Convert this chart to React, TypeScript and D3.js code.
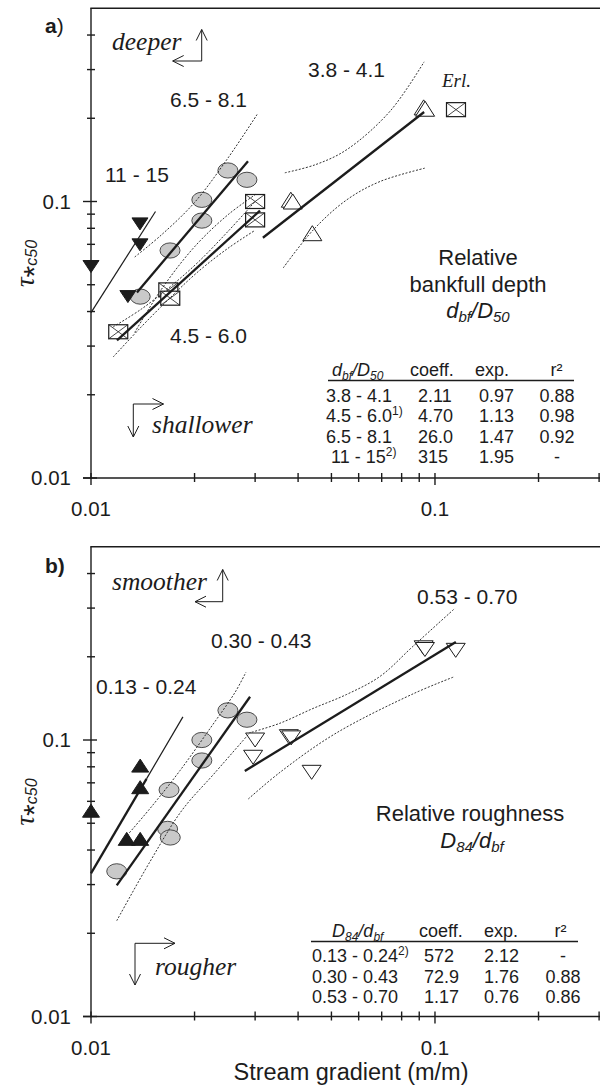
import React from 'react';
import * as d3 from 'd3';

type Pt = [number, number];

const SANS = "'Liberation Sans', Arial, Helvetica, sans-serif";
const SERIF = "'Liberation Serif', 'Times New Roman', serif";
const INK = '#1c1c1c';

// ---------- shared axes ----------
const xDomain: [number, number] = [0.01, 0.3];
const yDomain: [number, number] = [0.01, 0.5];
const xMajorTicks = [0.01, 0.1];
const xMinorTicks = [0.02, 0.03, 0.04, 0.05, 0.06, 0.07, 0.08, 0.09, 0.2, 0.3];
const yMajorTicks = [0.01, 0.1];
const yMinorTicks = [0.02, 0.03, 0.04, 0.05, 0.06, 0.07, 0.08, 0.09, 0.2, 0.3, 0.4];
const xTickLabels = ['0.01', '0.1'];
const yTickLabels = ['0.01', '0.1'];
const xTitle = 'Stream gradient (m/m)';

// ---------- panel a : relative bankfull depth ----------
const aFilledDown: Pt[] = [[0.01, 0.0582], [0.0128, 0.0453], [0.01388, 0.0697], [0.01388, 0.083]];
const aGrey: Pt[] = [[0.025, 0.1295], [0.0284, 0.1198], [0.021, 0.1014], [0.021, 0.0853], [0.01697, 0.0665], [0.0139, 0.0453]];
const aSquares: Pt[] = [[0.03, 0.1], [0.03, 0.0858], [0.01678, 0.0479], [0.017, 0.0447], [0.012, 0.0338], [0.1151, 0.2149]];
const aOpenUp: Pt[] = [[0.0927, 0.219], [0.0936, 0.2165], [0.0381, 0.1015], [0.0386, 0.1], [0.044, 0.0768]];

const aFitCoeff = [2.11, 4.7, 26.0, 315];
const aFitExp = [0.97, 1.13, 1.47, 1.95];
const aFitFrom = [0.0316, 0.0119, 0.0136, 0.01];
const aFitTo = [0.093, 0.031, 0.0286, 0.0154];

const aBand38Upper: Pt[] = [[0.0366, 0.127], [0.045, 0.136], [0.0554, 0.154], [0.074, 0.212], [0.093, 0.32]];
const aBand38Lower: Pt[] = [[0.0362, 0.0575], [0.0443, 0.079], [0.0554, 0.1014], [0.0692, 0.1181], [0.0934, 0.132]];
const aBand45Upper: Pt[] = [[0.0116, 0.0352], [0.014, 0.0408], [0.017, 0.0492], [0.0205, 0.0604], [0.025, 0.0779], [0.03, 0.1]];
const aBand45Lower: Pt[] = [[0.0116, 0.0274], [0.014, 0.0352], [0.017, 0.0449], [0.0205, 0.0558], [0.025, 0.0677], [0.03, 0.0787]];
const aBand65Upper: Pt[] = [[0.0134, 0.063], [0.016, 0.0756], [0.02, 0.0992], [0.025, 0.1435], [0.0304, 0.2064]];
const aBand65Lower: Pt[] = [[0.0134, 0.0336], [0.016, 0.048], [0.02, 0.0686], [0.025, 0.0895], [0.0304, 0.107]];

const aClassLabels = ['3.8 - 4.1', '4.5 - 6.0', '6.5 - 8.1', '11 - 15'];
const aTableClasses = ['3.8 - 4.1', '4.5 - 6.0', '6.5 - 8.1', ' 11 - 15'];
const aTableNotes = ['', '1)', '', '2)'];
const aTableCoeff = ['2.11', '4.70', '26.0', '315'];
const aTableExp = ['0.97', '1.13', '1.47', '1.95'];
const aTableR2 = ['0.88', '0.98', '0.92', '-'];

// ---------- panel b : relative roughness ----------
const bFilledUp: Pt[] = [[0.0139, 0.0808], [0.0139, 0.0675], [0.01, 0.0555], [0.0127, 0.0439], [0.0139, 0.0439]];
const bGrey: Pt[] = [[0.025, 0.128], [0.0284, 0.1184], [0.021, 0.1], [0.021, 0.0843], [0.01686, 0.066], [0.0167, 0.0477], [0.017, 0.0444], [0.01188, 0.0335]];
const bOpenDown: Pt[] = [[0.03, 0.1], [0.0296, 0.0866], [0.0376, 0.1028], [0.0382, 0.1018], [0.0438, 0.0764], [0.0927, 0.2155], [0.0935, 0.2125], [0.1149, 0.211]];

const bFitCoeff = [572, 72.9, 1.17];
const bFitExp = [2.12, 1.76, 0.76];
const bFitFrom = [0.01, 0.01188, 0.028];
const bFitTo = [0.0185, 0.029, 0.115];

const bBand30Upper: Pt[] = [[0.01214, 0.0422], [0.01484, 0.0565], [0.01814, 0.0775], [0.02218, 0.11], [0.02622, 0.1486], [0.0282, 0.1757]];
const bBand30Lower: Pt[] = [[0.01188, 0.0222], [0.01484, 0.0363], [0.01835, 0.0555], [0.02294, 0.0762], [0.02933, 0.1082]];
const bBand53Upper: Pt[] = [[0.02933, 0.1067], [0.03543, 0.115], [0.04418, 0.13], [0.0554, 0.1462], [0.0692, 0.1698], [0.0863, 0.2182], [0.1143, 0.2995]];
const bBand53Lower: Pt[] = [[0.02866, 0.0612], [0.03543, 0.0764], [0.0512, 0.1053], [0.0865, 0.147], [0.113, 0.1688]];

const bClassLabels = ['0.13 - 0.24', '0.30 - 0.43', '0.53 - 0.70'];
const bTableNotes = ['2)', '', ''];
const bTableCoeff = ['572', '72.9', '1.17'];
const bTableExp = ['2.12', '1.76', '0.76'];
const bTableR2 = ['-', '0.88', '0.86'];

// ---------- scales ----------
const xS = d3.scaleLog().domain(xDomain).range([91, 599.1]);
const yAS = d3.scaleLog().domain(yDomain).range([478, 8.24]);
const yBS = d3.scaleLog().domain(yDomain).range([1016.5, 546.74]);

type Scale = d3.ScaleLogarithmic<number, number>;

function Axes({ y }: { y: Scale }) {
  const bottom = y(yDomain[0]);
  const top = y(yDomain[1]);
  const x0 = xS(xDomain[0]);
  return (
    <g stroke={INK} strokeWidth={1.4} fill="none">
      <line x1={x0} x2={x0} y1={top} y2={bottom + 0.7} />
      <line x1={x0 - 0.7} x2={600} y1={top} y2={top} />
      <line x1={x0 - 8} x2={600} y1={bottom} y2={bottom} />
      {xMinorTicks.map((t) => (
        <line key={'xm' + t} x1={xS(t)} x2={xS(t)} y1={bottom - 5} y2={bottom + 4} />
      ))}
      {xMajorTicks.map((t) => (
        <line key={'xM' + t} x1={xS(t)} x2={xS(t)} y1={bottom - 5} y2={bottom + 7} />
      ))}
      {yMinorTicks.map((t) => (
        <line key={'ym' + t} x1={x0 - 4} x2={x0 + 4} y1={y(t)} y2={y(t)} />
      ))}
      {yMajorTicks.map((t) => (
        <line key={'yM' + t} x1={x0 - 8} x2={x0 + 6} y1={y(t)} y2={y(t)} />
      ))}
      <g stroke="none" fill={INK} fontFamily={SANS} fontSize={20.5}>
        {xMajorTicks.map((t, i) => (
          <text key={'xl' + t} x={xS(t)} y={bottom + 38} textAnchor="middle">{xTickLabels[i]}</text>
        ))}
        {yMajorTicks.map((t, i) => (
          <text key={'yl' + t} x={71} y={y(t) + 7.3} textAnchor="end">{yTickLabels[i]}</text>
        ))}
      </g>
      <text
        stroke="none"
        fill={INK}
        transform={`translate(33.5, ${y(0.1) + 62}) rotate(-90)`}
        textAnchor="middle"
      >
        <tspan fontFamily={SERIF} fontStyle="italic" fontSize={27}>τ</tspan>
        <tspan fontFamily={SANS} fontSize={30} dy={10}>*</tspan>
        <tspan fontFamily={SANS} fontStyle="italic" fontSize={16} dy={-7}>c50</tspan>
      </text>
    </g>
  );
}

function DownTri({ p, y, w, h, fill }: { p: Pt; y: Scale; w: number; h: number; fill: string }) {
  const cx = xS(p[0]);
  const cy = y(p[1]);
  return (
    <path
      d={`M${cx - w / 2},${cy - h / 2}L${cx + w / 2},${cy - h / 2}L${cx},${cy + h / 2}Z`}
      fill={fill}
      stroke={INK}
      strokeWidth={1}
    />
  );
}

function UpTri({ p, y, w, h, fill }: { p: Pt; y: Scale; w: number; h: number; fill: string }) {
  const cx = xS(p[0]);
  const cy = y(p[1]);
  return (
    <path
      d={`M${cx - w / 2},${cy + h / 2}L${cx + w / 2},${cy + h / 2}L${cx},${cy - h / 2}Z`}
      fill={fill}
      stroke={INK}
      strokeWidth={1}
    />
  );
}

function GreyDot({ p, y }: { p: Pt; y: Scale }) {
  return <ellipse cx={xS(p[0])} cy={y(p[1])} rx={10} ry={7.6} fill="#c9c9c9" stroke="#3a3a3a" strokeWidth={0.9} />;
}

function CrossSquare({ p, y }: { p: Pt; y: Scale }) {
  const cx = xS(p[0]);
  const cy = y(p[1]);
  const w = 19;
  const h = 14;
  return (
    <g stroke={INK} fill="none">
      <rect x={cx - w / 2} y={cy - h / 2} width={w} height={h} fill="white" strokeWidth={1.2} />
      <path
        d={`M${cx - w / 2},${cy - h / 2}L${cx + w / 2},${cy + h / 2}M${cx + w / 2},${cy - h / 2}L${cx - w / 2},${cy + h / 2}`}
        strokeWidth={0.8}
      />
    </g>
  );
}

function FitLine({ c, e, from, to, y, width }: { c: number; e: number; from: number; to: number; y: Scale; width: number }) {
  const pts: Pt[] = [[from, c * Math.pow(from, e)], [to, c * Math.pow(to, e)]];
  const line = d3.line<Pt>().x((d) => xS(d[0])).y((d) => y(d[1]));
  return <path d={line(pts) || ''} stroke={INK} strokeWidth={width} fill="none" strokeLinecap="butt" />;
}

function Band({ pts, y }: { pts: Pt[]; y: Scale }) {
  const line = d3.line<Pt>().x((d) => xS(d[0])).y((d) => y(d[1])).curve(d3.curveCatmullRom.alpha(0.5));
  return <path d={line(pts) || ''} stroke={INK} strokeWidth={0.9} strokeDasharray="2 1.6" fill="none" />;
}

function LArrow({ cx, cy, hx, vy }: { cx: number; cy: number; hx: number; vy: number }) {
  const dh = Math.sign(hx - cx);
  const dv = Math.sign(vy - cy);
  const L = 11;
  const S = 5.5;
  return (
    <g stroke={INK} strokeWidth={1} fill="none">
      <path d={`M${hx},${cy}L${cx},${cy}L${cx},${vy}`} />
      <path d={`M${hx - dh * L},${cy - S}L${hx},${cy}L${hx - dh * L},${cy + S}`} />
      <path d={`M${cx - S},${vy - dv * L}L${cx},${vy}L${cx + S},${vy - dv * L}`} />
    </g>
  );
}

// ratio label like d_bf / D_50 : [main1, sub1, main2, sub2]
function Ratio({ parts, size, subSize }: { parts: string[]; size: number; subSize: number }) {
  const s = size * 0.2;
  return (
    <>
      <tspan fontStyle="italic" fontSize={size}>{parts[0]}</tspan>
      <tspan fontStyle="italic" fontSize={subSize} dy={s}>{parts[1]}</tspan>
      <tspan fontStyle="italic" fontSize={size} dy={-s}>{'/' + parts[2]}</tspan>
      <tspan fontStyle="italic" fontSize={subSize} dy={s}>{parts[3]}</tspan>
    </>
  );
}

export default function App() {
  const thin = 1.2;
  const thick = 2.3;
  const tableFs = 18;
  const rowA = (i: number) => 401.5 + 20.6 * i;
  const rowB = (i: number) => 961.7 + 20.8 * i;
  const depthParts = ['d', 'bf', 'D', '50'];
  const roughParts = ['D', '84', 'd', 'bf'];
  return (
    <svg
      width={600}
      height={1092}
      viewBox="0 0 600 1092"
      style={{ position: 'absolute', left: 0, top: 0 }}
      fontFamily={SANS}
    >
      <rect width={600} height={1092} fill="white" />

      {/* ================= PANEL A ================= */}
      <Axes y={yAS} />
      <text x={45} y={33} fontSize={21} fill={INK}>
        <tspan fontWeight="bold">a</tspan>
        <tspan>)</tspan>
      </text>

      {aGrey.map((p, i) => <GreyDot key={'ag' + i} p={p} y={yAS} />)}
      {aSquares.map((p, i) => <CrossSquare key={'as' + i} p={p} y={yAS} />)}
      {aOpenUp.map((p, i) => <UpTri key={'au' + i} p={p} y={yAS} w={19} h={15} fill="white" />)}
      {aFilledDown.map((p, i) => <DownTri key={'ad' + i} p={p} y={yAS} w={16} h={12} fill={INK} />)}

      <Band pts={aBand38Upper} y={yAS} />
      <Band pts={aBand38Lower} y={yAS} />
      <Band pts={aBand45Upper} y={yAS} />
      <Band pts={aBand45Lower} y={yAS} />
      <Band pts={aBand65Upper} y={yAS} />
      <Band pts={aBand65Lower} y={yAS} />
      {aFitCoeff.map((c, i) => (
        <FitLine key={'af' + i} c={c} e={aFitExp[i]} from={aFitFrom[i]} to={aFitTo[i]} y={yAS} width={i === 3 ? thin : thick} />
      ))}

      <g fontSize={21} fill={INK}>
        <text x={308} y={77}>{aClassLabels[0]}</text>
        <text x={170} y={343}>{aClassLabels[1]}</text>
        <text x={170} y={107}>{aClassLabels[2]}</text>
        <text x={105} y={182}>{aClassLabels[3]}</text>
      </g>
      <text x={442} y={87} fontFamily={SERIF} fontStyle="italic" fontSize={19} fill={INK}>Erl.</text>

      <text x={112} y={50} fontFamily={SERIF} fontStyle="italic" fontSize={25.5} fill={INK}>deeper</text>
      <LArrow cx={201.7} cy={61} hx={172.7} vy={29.5} />
      <text x={152} y={433} fontFamily={SERIF} fontStyle="italic" fontSize={25.5} fill={INK}>shallower</text>
      <LArrow cx={133.3} cy={404} hx={163.5} vy={437} />

      <g fontSize={22} fill={INK} textAnchor="middle">
        <text x={478} y={265}>Relative</text>
        <text x={478} y={291.5}>bankfull depth</text>
        <text x={478} y={318}>
          <Ratio parts={depthParts} size={22} subSize={15} />
        </text>
      </g>

      <g fontSize={tableFs} fill={INK}>
        <text x={332} y={376}>
          <Ratio parts={depthParts} size={tableFs} subSize={12} />
        </text>
        <text x={410} y={376}>coeff.</text>
        <text x={475} y={376}>exp.</text>
        <text x={556.5} y={376} textAnchor="middle">r²</text>
        <line x1={328} x2={574} y1={380.5} y2={380.5} stroke={INK} strokeWidth={1.3} />
        {aTableClasses.map((c, i) => (
          <text key={'at' + i} x={326} y={rowA(i)} style={{ whiteSpace: 'pre' }}>
            <tspan>{c}</tspan>
            {aTableNotes[i] ? <tspan fontSize={12} dy={-7}>{aTableNotes[i]}</tspan> : null}
          </text>
        ))}
        {aTableCoeff.map((c, i) => <text key={'ac' + i} x={418} y={rowA(i)}>{c}</text>)}
        {aTableExp.map((c, i) => <text key={'ae' + i} x={479} y={rowA(i)}>{c}</text>)}
        {aTableR2.map((c, i) => <text key={'ar' + i} x={557} y={rowA(i)} textAnchor="middle">{c}</text>)}
      </g>

      {/* ================= PANEL B ================= */}
      <Axes y={yBS} />
      <text x={45} y={573} fontSize={21} fill={INK} fontWeight="bold">b)</text>

      {bGrey.map((p, i) => <GreyDot key={'bg' + i} p={p} y={yBS} />)}
      {bOpenDown.map((p, i) => <DownTri key={'bd' + i} p={p} y={yBS} w={19} h={14} fill="white" />)}
      {bFilledUp.map((p, i) => <UpTri key={'bu' + i} p={p} y={yBS} w={17} h={13} fill={INK} />)}

      <Band pts={bBand30Upper} y={yBS} />
      <Band pts={bBand30Lower} y={yBS} />
      <Band pts={bBand53Upper} y={yBS} />
      <Band pts={bBand53Lower} y={yBS} />
      <FitLine c={bFitCoeff[0]} e={bFitExp[0]} from={bFitFrom[0]} to={0.0145} y={yBS} width={thick} />
      <FitLine c={bFitCoeff[0]} e={bFitExp[0]} from={0.0145} to={bFitTo[0]} y={yBS} width={thin} />
      <FitLine c={bFitCoeff[1]} e={bFitExp[1]} from={bFitFrom[1]} to={bFitTo[1]} y={yBS} width={thick} />
      <FitLine c={bFitCoeff[2]} e={bFitExp[2]} from={bFitFrom[2]} to={bFitTo[2]} y={yBS} width={thick} />

      <g fontSize={21} fill={INK}>
        <text x={96} y={694}>{bClassLabels[0]}</text>
        <text x={211} y={648}>{bClassLabels[1]}</text>
        <text x={417} y={604}>{bClassLabels[2]}</text>
      </g>

      <text x={112} y={590} fontFamily={SERIF} fontStyle="italic" fontSize={25.5} fill={INK}>smoother</text>
      <LArrow cx={222.7} cy={601.7} hx={195} vy={569.5} />
      <text x={155} y={975} fontFamily={SERIF} fontStyle="italic" fontSize={25.5} fill={INK}>rougher</text>
      <LArrow cx={135} cy={943.3} hx={175} vy={985} />

      <g fontSize={22} fill={INK} textAnchor="middle">
        <text x={470} y={821}>Relative roughness</text>
        <text x={472} y={848}>
          <Ratio parts={roughParts} size={22} subSize={15} />
        </text>
      </g>

      <g fontSize={tableFs} fill={INK}>
        <text x={332} y={937}>
          <Ratio parts={roughParts} size={tableFs} subSize={12} />
        </text>
        <text x={419} y={937}>coeff.</text>
        <text x={484} y={937}>exp.</text>
        <text x={560.5} y={937} textAnchor="middle">r²</text>
        <line x1={311} x2={578} y1={941.5} y2={941.5} stroke={INK} strokeWidth={1.3} />
        {bClassLabels.map((c, i) => (
          <text key={'bt' + i} x={312} y={rowB(i)}>
            <tspan>{c}</tspan>
            {bTableNotes[i] ? <tspan fontSize={12} dy={-7}>{bTableNotes[i]}</tspan> : null}
          </text>
        ))}
        {bTableCoeff.map((c, i) => <text key={'bc' + i} x={424} y={rowB(i)}>{c}</text>)}
        {bTableExp.map((c, i) => <text key={'be' + i} x={484} y={rowB(i)}>{c}</text>)}
        {bTableR2.map((c, i) => <text key={'br' + i} x={563} y={rowB(i)} textAnchor="middle">{c}</text>)}
      </g>

      <text x={351} y={1080} fontSize={23.5} fill={INK} textAnchor="middle">{xTitle}</text>
    </svg>
  );
}
